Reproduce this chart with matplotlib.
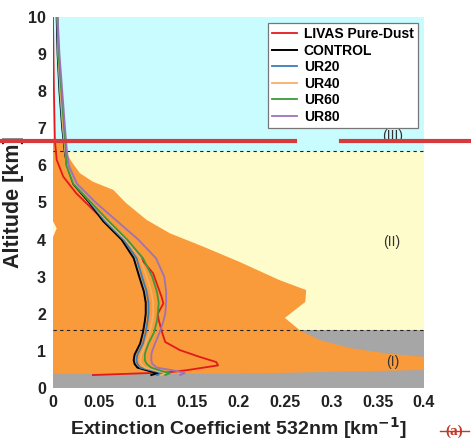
import numpy as np
from matplotlib import use
use('Agg')
from matplotlib import pyplot as plt
from matplotlib.lines import Line2D

plt.rcParams['font.family'] = ['Liberation Sans', 'DejaVu Sans']

# Simulated profiles (altitude in km, extinction in km-1)
alt = [0.35, 0.4, 0.45, 0.55, 0.65, 0.75, 0.9, 1.0, 1.2, 1.5, 1.8, 2.0, 2.3,
       2.6, 3.0, 3.5, 4.0, 4.5, 5.0, 5.5, 6.0, 6.4, 7.0, 8.0, 9.0, 10.0]
control = [0.106, 0.113, 0.105, 0.091, 0.088, 0.087, 0.088, 0.090, 0.094, 0.097, 0.099, 0.100, 0.100,
           0.098, 0.093, 0.087, 0.074, 0.054, 0.039, 0.022, 0.015, 0.0126, 0.010, 0.007, 0.005, 0.004]
ur20 = [0.112, 0.120, 0.110, 0.094, 0.091, 0.090, 0.091, 0.093, 0.097, 0.100, 0.102, 0.103, 0.103,
        0.101, 0.096, 0.090, 0.076, 0.056, 0.040, 0.023, 0.0155, 0.013, 0.0105, 0.0075, 0.0055, 0.0045]
ur40 = [0.116, 0.123, 0.114, 0.099, 0.095, 0.094, 0.095, 0.097, 0.100, 0.104, 0.107, 0.108, 0.108,
        0.106, 0.101, 0.094, 0.078, 0.058, 0.041, 0.023, 0.015, 0.0132, 0.011, 0.008, 0.0058, 0.0048]
ur60 = [0.121, 0.126, 0.118, 0.106, 0.101, 0.099, 0.099, 0.100, 0.103, 0.109, 0.112, 0.113, 0.114,
        0.112, 0.107, 0.097, 0.080, 0.060, 0.041, 0.022, 0.0145, 0.0138, 0.012, 0.009, 0.006, 0.005]
ur80 = [0.137, 0.142, 0.135, 0.112, 0.107, 0.106, 0.106, 0.107, 0.110, 0.115, 0.119, 0.121, 0.122,
        0.122, 0.120, 0.111, 0.092, 0.069, 0.046, 0.026, 0.017, 0.015, 0.013, 0.010, 0.007, 0.005]

# LIVAS pure-dust profile
livas_alt = [0.35, 0.42, 0.48, 0.61, 0.7, 0.84, 1.02, 1.24, 1.47, 1.83, 2.0, 2.28, 2.46,
             3.09, 3.63, 4.17, 4.71, 5.25, 5.7, 6.15, 6.68, 8.0, 10.0]
livas = [0.043, 0.123, 0.144, 0.178, 0.176, 0.158, 0.137, 0.121, 0.118, 0.114, 0.113, 0.119, 0.117,
         0.108, 0.090, 0.072, 0.047, 0.025, 0.011, 0.004, 0.002, 0.001, 0.0]

# background regions
layer_tops = [1.56, 6.4, 10.0]   # (I), (II), (III)
orange_edge_ext = [0.0, 0.004, 0.0, 0.0, 0.011, 0.014, 0.020, 0.029, 0.043, 0.065, 0.079, 0.101,
                   0.126, 0.162, 0.201, 0.244, 0.273, 0.272, 0.250, 0.266, 0.288, 0.32, 0.36, 0.4,
                   0.4, 0.19, 0.0]
orange_edge_alt = [4.07, 4.3, 4.5, 6.65, 6.65, 6.37, 6.10, 5.79, 5.56, 5.34, 4.98, 4.53,
                   4.17, 3.81, 3.40, 2.91, 2.64, 2.32, 1.89, 1.56, 1.29, 1.08, 0.93, 0.84,
                   0.485, 0.38, 0.375]

fig = plt.figure(figsize=(4.71, 4.46), dpi=100)
ax = fig.add_axes([0.1125, 0.130, 0.7877, 0.832])

ax.axhspan(0, layer_tops[0], color='#a6a6a6', lw=0, zorder=0)
ax.axhspan(layer_tops[0], layer_tops[1], color='#fffccc', lw=0, zorder=0)
ax.axhspan(layer_tops[1], layer_tops[2], color='#c8fcff', lw=0, zorder=0)
ax.fill(orange_edge_ext, orange_edge_alt, color='#f99a3b', lw=0, zorder=1)
for h in layer_tops[:2]:
    ax.axhline(h, color='#222222', lw=0.8, ls=(0, (3, 3)), zorder=2)

ax.plot(livas, livas_alt, color='#e3191c', lw=1.3, label='LIVAS Pure-Dust', zorder=3)
ax.plot(control, alt, color='#000000', lw=1.4, label='CONTROL', zorder=3)
ax.plot(ur20, alt, color='#3a7db5', lw=1.3, label='UR20', zorder=3)
ax.plot(ur40, alt, color='#f5b068', lw=1.3, label='UR40', zorder=3)
ax.plot(ur60, alt, color='#3c9a3c', lw=1.3, label='UR60', zorder=3)
ax.plot(ur80, alt, color='#9d72b8', lw=1.3, label='UR80', zorder=3)

ax.text(0.3666, 6.78, '(III)', ha='center', va='center', fontsize=10, color='#333333')
ax.text(0.3655, 3.93, '(II)', ha='center', va='center', fontsize=10, color='#333333')
ax.text(0.3666, 0.70, '(I)', ha='center', va='center', fontsize=10, color='#333333')

ax.set_xlim(0, 0.4)
ax.set_ylim(0, 10)
ax.set_xticks([0, 0.05, 0.1, 0.15, 0.2, 0.25, 0.3, 0.35, 0.4])
ax.set_xticklabels(['0', '0.05', '0.1', '0.15', '0.2', '0.25', '0.3', '0.35', '0.4'])
ax.set_yticks(range(0, 11))
ax.tick_params(length=0, pad=5, labelsize=11.5, labelcolor='#222222')
for lab in ax.get_xticklabels() + ax.get_yticklabels():
    lab.set_fontweight('bold')
for s in ax.spines.values():
    s.set_visible(False)

ax.set_xlabel('Extinction Coefficient 532nm [km$^{\\mathbf{-1}}$]', fontsize=14,
              fontweight='bold', color='#222222', labelpad=4)
ax.set_ylabel('Altitude [km]', fontsize=15.5, fontweight='bold', color='#222222', labelpad=3)

leg = ax.legend(loc='upper right', bbox_to_anchor=(0.983, 0.984),
                prop={'weight': 'bold', 'size': 10}, fancybox=False, framealpha=1,
                edgecolor='#777777', handlelength=1.8, handletextpad=0.5,
                labelspacing=0.18, borderpad=0.3, borderaxespad=0)
leg.get_frame().set_linewidth(0.9)

# red correction marks over the figure
fig.add_artist(Line2D([0, 0.626], [0.683, 0.683], color='#d63a3c', lw=3))
fig.add_artist(Line2D([0.724, 1.0], [0.683, 0.683], color='#d63a3c', lw=3))
fig.text(0.965, 0.032, '(a)', ha='center', va='center', fontsize=11, fontweight='bold',
         family='Liberation Serif', color='#c0392b')
fig.add_artist(Line2D([0.935, 0.995], [0.033, 0.033], color='#c0392b', lw=1))

plt.savefig('out.png')
